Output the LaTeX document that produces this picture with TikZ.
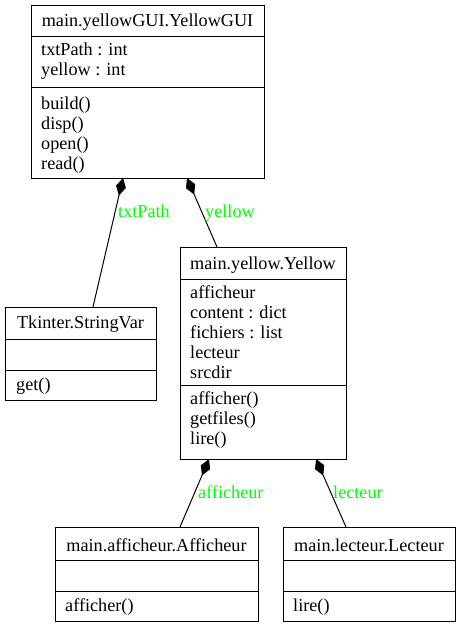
\documentclass[tikz,border=0pt]{standalone}
\usepackage{fontspec}
\setmainfont{Liberation Serif}
\usetikzlibrary{arrows.meta}
\definecolor{lblgreen}{RGB}{0,255,0}
\tikzset{
  cls/.style={draw, line width=1pt, anchor=north west, inner sep=0pt, fill=white},
  txt/.style={anchor=base west, inner sep=0pt, font=\fontsize{18.2}{20}\selectfont},
  ttl/.style={anchor=base, inner sep=0pt, font=\fontsize{18.2}{20}\selectfont},
  sepline/.style={line width=1pt},
  comp/.style={line width=1pt, {Diamond[length=18pt,width=10pt]}-},
  lbl/.style={text=lblgreen, anchor=base west, inner sep=0pt, font=\fontsize{18.2}{20}\selectfont}
}
\begin{document}
\begin{tikzpicture}[x=1pt, y=-1pt]
\useasboundingbox[fill=white] (0,0) rectangle (460,628);

% YellowGUI
\node[cls, minimum width=233pt, minimum height=173pt] (yg) at (31,5) {};
\draw[sepline] (31,37) -- (264,37);
\draw[sepline] (31,88) -- (264,88);
\node[ttl] (ygt) at (147.5,27) {main.yellowGUI.YellowGUI};
\node[txt] (yga1) at (41,56) {txtPath : int};
\node[txt] (yga2) at (41,76) {yellow : int};
\node[txt] (ygm1) at (41,110) {build()};
\node[txt] (ygm2) at (41,130) {disp()};
\node[txt] (ygm3) at (41,150) {open()};
\node[txt] (ygm4) at (41,170) {read()};

% Yellow
\node[cls, minimum width=166pt, minimum height=212pt] (ye) at (180,247) {};
\draw[sepline] (180,279) -- (346,279);
\draw[sepline] (180,385) -- (346,385);
\node[ttl] (yet) at (263,269) {main.yellow.Yellow};
\node[txt] (yea1) at (190,298) {afficheur};
\node[txt] (yea2) at (190,318) {content : dict};
\node[txt] (yea3) at (190,338) {fichiers : list};
\node[txt] (yea4) at (190,358) {lecteur};
\node[txt] (yea5) at (190,378) {srcdir};
\node[txt] (yem1) at (190,404) {afficher()};
\node[txt] (yem2) at (190,424) {getfiles()};
\node[txt] (yem3) at (190,444) {lire()};

% StringVar
\node[cls, minimum width=151pt, minimum height=93pt] (sv) at (5,307) {};
\draw[sepline] (5,339) -- (156,339);
\draw[sepline] (5,370) -- (156,370);
\node[ttl] (svt) at (80.5,328) {Tkinter.StringVar};
\node[txt] (svm1) at (16,390) {get()};

% Afficheur
\node[cls, minimum width=203pt, minimum height=94pt] (af) at (55,527) {};
\draw[sepline] (55,560) -- (258,560);
\draw[sepline] (55,591) -- (258,591);
\node[ttl] (aft) at (156.5,551) {main.afficheur.Afficheur};
\node[txt] (afm1) at (65,611) {afficher()};

% Lecteur
\node[cls, minimum width=172pt, minimum height=94pt] (le) at (283,527) {};
\draw[sepline] (283,560) -- (455,560);
\draw[sepline] (283,591) -- (455,591);
\node[ttl] (let) at (369,551) {main.lecteur.Lecteur};
\node[txt] (lem1) at (293,611) {lire()};

% connector end points
\coordinate (s1) at (123,178);
\coordinate (t1) at (93,307);
\coordinate (s2) at (187,178);
\coordinate (t2) at (217,247);
\coordinate (s3) at (209,459);
\coordinate (t3) at (180,527);
\coordinate (s4) at (316,459);
\coordinate (t4) at (346,527);

\draw[comp] (s1) -- (t1);
\draw[comp] (s2) -- (t2);
\draw[comp] (s3) -- (t3);
\draw[comp] (s4) -- (t4);

\node[lbl] (l1) at (118,217) {txtPath};
\node[lbl] (l2) at (205,217) {yellow};
\node[lbl] (l3) at (198,498) {afficheur};
\node[lbl] (l4) at (333,498) {lecteur};
\end{tikzpicture}
\end{document}
